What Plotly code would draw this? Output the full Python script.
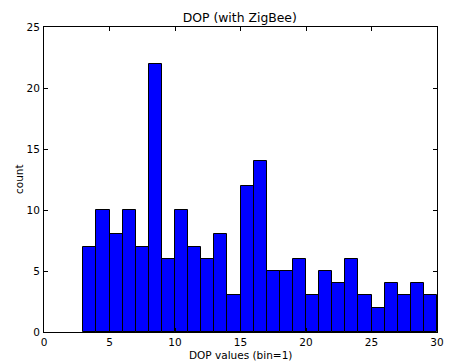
import plotly.graph_objects as go

bin_left = list(range(3, 30))
counts = [7, 10, 8, 10, 7, 22, 6, 10, 7, 6, 8, 3, 12, 14, 5, 5, 6, 3, 5, 4, 6, 3, 2, 4, 3, 4, 3]
x_ticks = [0, 5, 10, 15, 20, 25, 30]
y_ticks = [0, 5, 10, 15, 20, 25]

centers = [b + 0.5 for b in bin_left]

fig = go.Figure(go.Bar(
    x=centers, y=counts, width=1,
    marker=dict(color="#0000ff", line=dict(color="black", width=1)),
))

font = dict(family="DejaVu Sans", size=10.5, color="black")
axis_common = dict(showline=True, linecolor="black", linewidth=1, mirror="ticks",
                   ticks="inside", ticklen=4, tickcolor="black", showgrid=False,
                   zeroline=False, tickfont=font, automargin=False)

fig.update_layout(
    width=449, height=363,
    margin=dict(l=43.5, r=12, t=26.5, b=31, autoexpand=False),
    plot_bgcolor="white", paper_bgcolor="white",
    showlegend=False, bargap=0,
    title=dict(text="DOP (with ZigBee)", x=0.534, xanchor="center", y=0.952, yanchor="middle",
               font=dict(family="DejaVu Sans", size=12.4, color="black")),
    xaxis=dict(range=[0, 30], tickvals=x_ticks, ticktext=[str(v) for v in x_ticks],
               ticklabelstandoff=0, **axis_common),
    yaxis=dict(range=[0, 25], tickvals=y_ticks, ticktext=[str(v) for v in y_ticks],
               ticklabelstandoff=1, **axis_common),
    annotations=[
        dict(text="DOP values (bin=1)", xref="paper", yref="paper", x=0.5, y=0,
             yshift=-22.5, xanchor="center", yanchor="middle", showarrow=False,
             borderpad=0, font=font),
        dict(text="count", xref="paper", yref="paper", x=0, y=0.5, xshift=-25.5,
             textangle=-90, xanchor="center", yanchor="middle", showarrow=False,
             borderpad=0, font=font),
    ],
)

fig.write_html("out.html")
